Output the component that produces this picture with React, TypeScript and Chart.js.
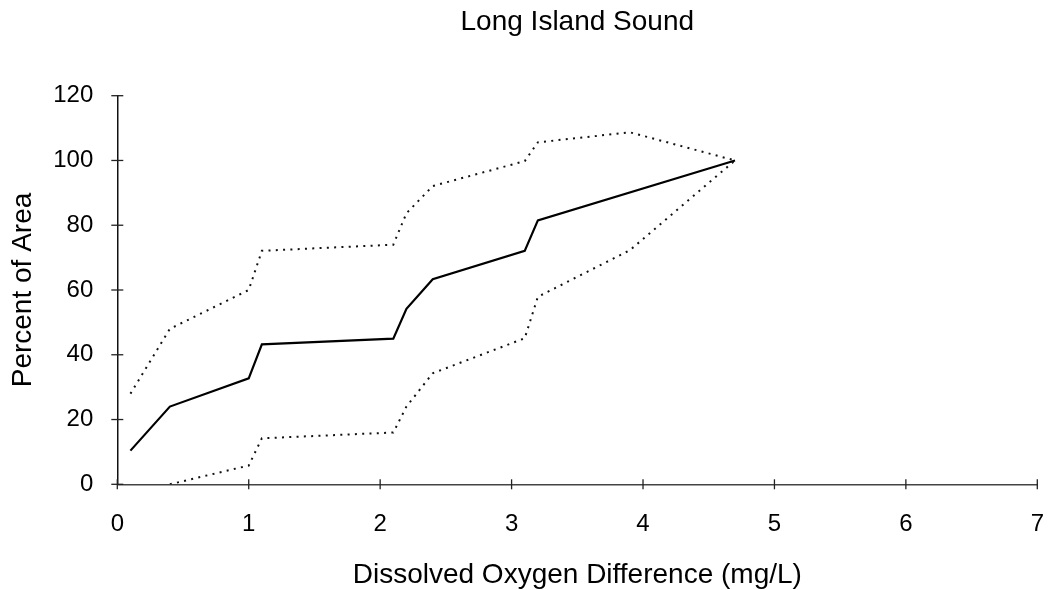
import React, { useEffect, useRef } from "react";
import { Chart, registerables } from "chart.js";

Chart.register(...registerables);

const chartTitle = "Long Island Sound";
const xAxisTitle = "Dissolved Oxygen Difference (mg/L)";
const yAxisTitle = "Percent of Area";

const meanX = [0.1, 0.4, 1.0, 1.1, 2.1, 2.2, 2.4, 3.1, 3.2, 4.7];
const meanY = [10.4, 24, 32.7, 43.2, 45, 54.2, 63.3, 72.1, 81.5, 100];

const upperX = [0.1, 0.4, 1.0, 1.1, 2.1, 2.2, 2.4, 3.1, 3.2, 3.9, 4.7];
const upperY = [28, 48, 60, 72.1, 74, 83.7, 92.1, 99.8, 105.6, 108.7, 100];

const lowerX = [0.4, 1.0, 1.1, 2.1, 2.2, 2.4, 3.1, 3.2, 3.9, 4.7];
const lowerY = [0, 5.8, 14.2, 16, 24, 34.3, 45.1, 57.9, 72.3, 100];

const xMin = 0;
const xMax = 7;
const xStep = 1;
const yMin = 0;
const yMax = 120;
const yStep = 20;

const FONT = "'Liberation Sans', Arial, Helvetica, sans-serif";

const toPoints = (xs: number[], ys: number[]) => xs.map((x, i) => ({ x, y: ys[i] }));

const crossTicks = {
  id: "crossTicks",
  afterDraw(chart: any) {
    const { ctx } = chart;
    const xs = chart.scales.x;
    const ys = chart.scales.y;
    ctx.save();
    ctx.strokeStyle = "#222";
    ctx.lineWidth = 1.3;
    const yLeft = ys.right;
    ys.ticks.forEach((t: any) => {
      const p = ys.getPixelForValue(t.value);
      ctx.beginPath();
      ctx.moveTo(yLeft - 6, p);
      ctx.lineTo(yLeft + 6, p);
      ctx.stroke();
    });
    const xTop = xs.top;
    xs.ticks.forEach((t: any) => {
      const p = xs.getPixelForValue(t.value);
      ctx.beginPath();
      ctx.moveTo(p, xTop - 5);
      ctx.lineTo(p, xTop + 5);
      ctx.stroke();
    });
    ctx.restore();
  },
};

export default function App() {
  const ref = useRef<HTMLCanvasElement | null>(null);

  useEffect(() => {
    if (!ref.current) return;
    const dotted = {
      borderColor: "#111",
      borderWidth: 2,
      borderDash: [2, 5.3],
      pointRadius: 0,
      tension: 0,
      fill: false,
    };
    const chart = new Chart(ref.current, {
      type: "line",
      data: {
        datasets: [
          { label: "Upper", data: toPoints(upperX, upperY), ...dotted },
          { label: "Lower", data: toPoints(lowerX, lowerY), ...dotted },
          {
            label: "Mean",
            data: toPoints(meanX, meanY),
            borderColor: "#000",
            borderWidth: 2.2,
            pointRadius: 0,
            tension: 0,
            fill: false,
          },
        ],
      },
      options: {
        animation: false,
        responsive: false,
        maintainAspectRatio: false,
        layout: { padding: { left: 0, right: 12.7, top: 0, bottom: 0 } },
        plugins: {
          legend: { display: false },
          tooltip: { enabled: false },
          title: {
            display: true,
            fullSize: false,
            text: chartTitle,
            color: "#000",
            font: { family: FONT, size: 28, weight: "normal", lineHeight: 1.2 },
            padding: { top: 5.5, bottom: 56.6 },
          },
        },
        scales: {
          x: {
            type: "linear",
            min: xMin,
            max: xMax,
            afterFit: (s: any) => {
              s.height = 105.7;
              s.paddingLeft = 0;
              s.paddingRight = 0;
            },
            ticks: {
              stepSize: xStep,
              color: "#000",
              font: { family: FONT, size: 24 },
              padding: 26,
              maxRotation: 0,
            },
            grid: { display: true, drawOnChartArea: false, drawTicks: false },
            border: { display: true, color: "#444", width: 1.5 },
            title: {
              display: true,
              text: xAxisTitle,
              color: "#000",
              font: { family: FONT, size: 28, lineHeight: 1 },
              padding: { top: 0, bottom: 1 },
            },
          },
          y: {
            type: "linear",
            min: yMin,
            max: yMax,
            afterFit: (s: any) => {
              s.width = 117.3;
              s.paddingTop = 0;
              s.paddingBottom = 0;
            },
            ticks: {
              stepSize: yStep,
              color: "#000",
              font: { family: FONT, size: 24 },
              padding: 24,
            },
            grid: { display: true, drawOnChartArea: false, drawTicks: false },
            border: { display: true, color: "#111", width: 1.5 },
            title: {
              display: true,
              text: yAxisTitle,
              color: "#000",
              font: { family: FONT, size: 28, lineHeight: 1 },
              padding: { top: 9.5, bottom: 0 },
            },
          },
        },
      },
      plugins: [crossTicks],
    } as any);
    return () => chart.destroy();
  }, []);

  return (
    <div style={{ position: "absolute", left: 0, top: 0, width: 1050, height: 590, background: "#fff" }}>
      <canvas ref={ref} width={1050} height={590} style={{ display: "block", width: 1050, height: 590 }} />
    </div>
  );
}
